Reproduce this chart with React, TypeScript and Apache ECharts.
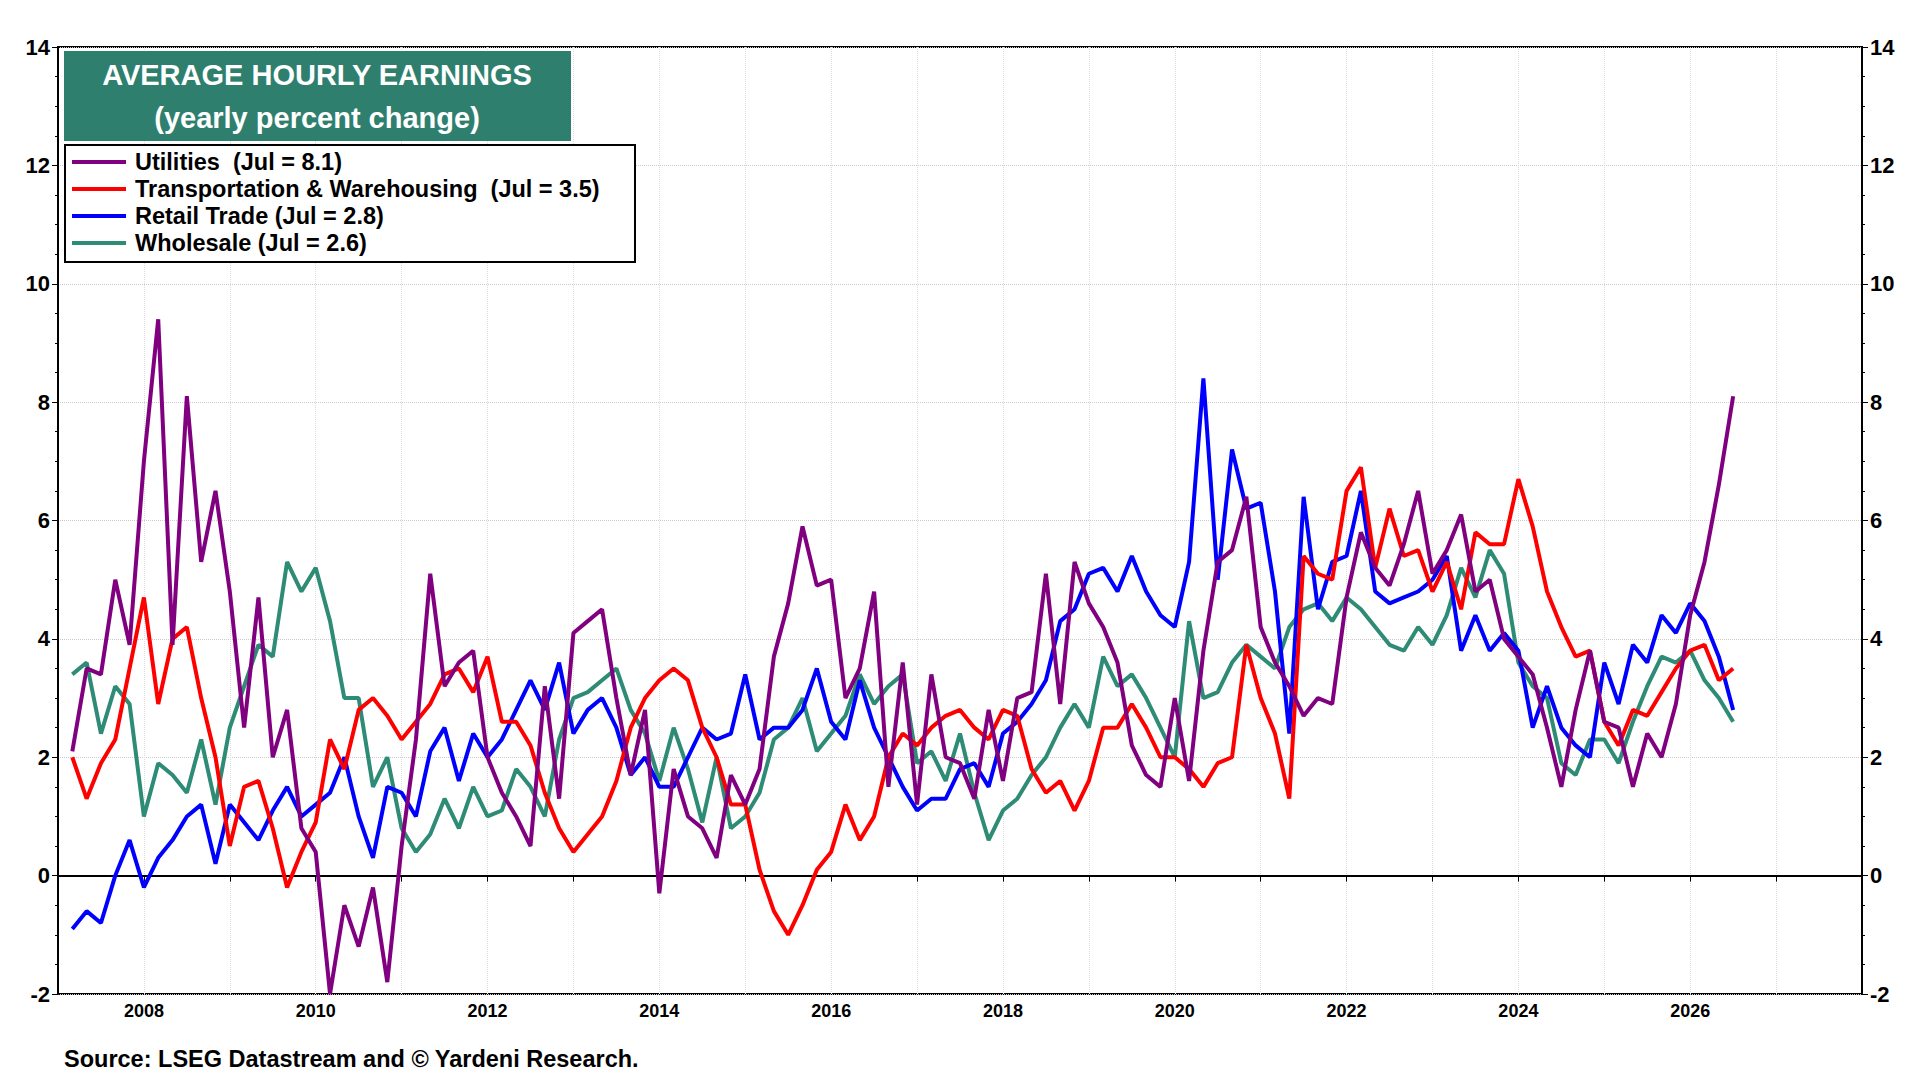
import React, { useEffect, useRef } from 'react';
import * as echarts from 'echarts';

// bimonthly readings, Mar 2007 .. Jul 2026
const startYear = 2007 + 2 / 12;
const step = 1 / 6;

const utilities = [
  2.1, 3.5, 3.4, 5.0, 3.9,
  7.0, 9.4, 3.9, 8.1, 5.3, 6.5,
  4.8, 2.5, 4.7, 2.0, 2.8, 0.8,
  0.4, -2.0, -0.5, -1.2, -0.2, -1.8,
  0.5, 2.3, 5.1, 3.2, 3.6, 3.8,
  2.0, 1.4, 1.0, 0.5, 3.2, 1.3,
  4.1, 4.3, 4.5, 3.0, 1.7, 2.8,
  -0.3, 1.8, 1.0, 0.8, 0.3, 1.7,
  1.2, 1.8, 3.7, 4.6, 5.9, 4.9,
  5.0, 3.0, 3.5, 4.8, 1.5, 3.6,
  1.2, 3.4, 2.0, 1.9, 1.3, 2.8,
  1.6, 3.0, 3.1, 5.1, 2.9, 5.3,
  4.6, 4.2, 3.6, 2.2, 1.7, 1.5,
  3.0, 1.6, 3.8, 5.3, 5.5, 6.4,
  4.2, 3.6, 3.2, 2.7, 3.0, 2.9,
  4.7, 5.8, 5.2, 4.9, 5.6, 6.5,
  5.1, 5.5, 6.1, 4.8, 5.0, 4.0,
  3.7, 3.4, 2.5, 1.5, 2.8, 3.8,
  2.6, 2.5, 1.5, 2.4, 2.0, 2.9,
  4.4, 5.3, 6.6, 8.1,
];

const transport = [
  2.0, 1.3, 1.9, 2.3, 3.5,
  4.7, 2.9, 4.0, 4.2, 3.0, 2.0,
  0.5, 1.5, 1.6, 0.8, -0.2, 0.4,
  0.9, 2.3, 1.8, 2.8, 3.0, 2.7,
  2.3, 2.6, 2.9, 3.4, 3.5, 3.1,
  3.7, 2.6, 2.6, 2.2, 1.4, 0.8,
  0.4, 0.7, 1.0, 1.6, 2.5, 3.0,
  3.3, 3.5, 3.3, 2.5, 2.0, 1.2,
  1.2, 0.1, -0.6, -1.0, -0.5, 0.1,
  0.4, 1.2, 0.6, 1.0, 2.0, 2.4,
  2.2, 2.5, 2.7, 2.8, 2.5, 2.3,
  2.8, 2.7, 1.8, 1.4, 1.6, 1.1,
  1.6, 2.5, 2.5, 2.9, 2.5, 2.0,
  2.0, 1.8, 1.5, 1.9, 2.0, 3.9,
  3.0, 2.4, 1.3, 5.4, 5.1, 5.0,
  6.5, 6.9, 5.2, 6.2, 5.4, 5.5,
  4.8, 5.3, 4.5, 5.8, 5.6, 5.6,
  6.7, 5.9, 4.8, 4.2, 3.7, 3.8,
  2.6, 2.2, 2.8, 2.7, 3.1, 3.5,
  3.8, 3.9, 3.3, 3.5,
];

const retail = [
  -0.9, -0.6, -0.8, 0.0, 0.6,
  -0.2, 0.3, 0.6, 1.0, 1.2, 0.2,
  1.2, 0.9, 0.6, 1.1, 1.5, 1.0,
  1.2, 1.4, 2.0, 1.0, 0.3, 1.5,
  1.4, 1.0, 2.1, 2.5, 1.6, 2.4,
  2.0, 2.3, 2.8, 3.3, 2.8, 3.6,
  2.4, 2.8, 3.0, 2.5, 1.7, 2.0,
  1.5, 1.5, 2.0, 2.5, 2.3, 2.4,
  3.4, 2.3, 2.5, 2.5, 2.8, 3.5,
  2.6, 2.3, 3.3, 2.5, 2.0, 1.5,
  1.1, 1.3, 1.3, 1.8, 1.9, 1.5,
  2.4, 2.6, 2.9, 3.3, 4.3, 4.5,
  5.1, 5.2, 4.8, 5.4, 4.8, 4.4,
  4.2, 5.3, 8.4, 5.0, 7.2, 6.2,
  6.3, 4.8, 2.4, 6.4, 4.5, 5.3,
  5.4, 6.5, 4.8, 4.6, 4.7, 4.8,
  5.0, 5.4, 3.8, 4.4, 3.8, 4.1,
  3.8, 2.5, 3.2, 2.5, 2.2, 2.0,
  3.6, 2.9, 3.9, 3.6, 4.4, 4.1,
  4.6, 4.3, 3.7, 2.8,
];

const wholesale = [
  3.4, 3.6, 2.4, 3.2, 2.9,
  1.0, 1.9, 1.7, 1.4, 2.3, 1.2,
  2.5, 3.2, 3.9, 3.7, 5.3, 4.8,
  5.2, 4.3, 3.0, 3.0, 1.5, 2.0,
  0.8, 0.4, 0.7, 1.3, 0.8, 1.5,
  1.0, 1.1, 1.8, 1.5, 1.0, 2.3,
  3.0, 3.1, 3.3, 3.5, 2.8, 2.4,
  1.6, 2.5, 1.8, 0.9, 2.0, 0.8,
  1.0, 1.4, 2.3, 2.5, 3.0, 2.1,
  2.4, 2.7, 3.4, 2.9, 3.2, 3.4,
  1.9, 2.1, 1.6, 2.4, 1.4, 0.6,
  1.1, 1.3, 1.7, 2.0, 2.5, 2.9,
  2.5, 3.7, 3.2, 3.4, 3.0, 2.5,
  2.0, 4.3, 3.0, 3.1, 3.6, 3.9,
  3.7, 3.5, 4.2, 4.5, 4.6, 4.3,
  4.7, 4.5, 4.2, 3.9, 3.8, 4.2,
  3.9, 4.4, 5.2, 4.7, 5.5, 5.1,
  3.6, 3.2, 3.0, 1.9, 1.7, 2.3,
  2.3, 1.9, 2.6, 3.2, 3.7, 3.6,
  3.8, 3.3, 3.0, 2.6,
];

const legendItems = [
  { name: 'Utilities  (Jul = 8.1)', color: '#800080' },
  { name: 'Transportation & Warehousing  (Jul = 3.5)', color: '#ff0000' },
  { name: 'Retail Trade (Jul = 2.8)', color: '#0000ff' },
  { name: 'Wholesale (Jul = 2.6)', color: '#2e8b75' },
];
const seriesData = [utilities, transport, retail, wholesale];

const font = '"Liberation Sans", Arial, sans-serif';

const App: React.FC = () => {
  const chartRef = useRef<HTMLDivElement | null>(null);

  useEffect(() => {
    const chart = echarts.init(chartRef.current!, null, { renderer: 'svg' });

    const yAxisBase = {
      type: 'value',
      min: -2,
      max: 14,
      interval: 2,
      axisLine: { show: true, lineStyle: { color: '#000', width: 2 } },
      axisTick: { show: true, length: 6, lineStyle: { color: '#000' } },
      minorTick: { show: true, splitNumber: 4, length: 3, lineStyle: { color: '#000' } },
      axisLabel: { color: '#000', fontFamily: font, fontWeight: 'bold', fontSize: 22 },
      splitLine: { show: true, lineStyle: { color: '#ccc', type: 'dotted' } },
    };

    const graphic: any[] = [
      { type: 'rect', left: 64, top: 51, z: 100, shape: { width: 507, height: 90 }, style: { fill: '#2f7f6f' } },
      { type: 'text', z: 101, x: 317, y: 75, style: { text: 'AVERAGE HOURLY EARNINGS', fill: '#fff', font: `bold 29px ${font}`, align: 'center', verticalAlign: 'middle' } },
      { type: 'text', z: 101, x: 317, y: 118, style: { text: '(yearly percent change)', fill: '#fff', font: `bold 29px ${font}`, align: 'center', verticalAlign: 'middle' } },
      { type: 'rect', left: 64, top: 144, z: 100, shape: { width: 570, height: 117 }, style: { fill: '#fff', stroke: '#000', lineWidth: 2 } },
      ...legendItems.flatMap((it, i) => [
        { type: 'line', z: 101, shape: { x1: 72, y1: 162 + i * 27, x2: 126, y2: 162 + i * 27 }, style: { stroke: it.color, lineWidth: 4 } },
        { type: 'text', z: 101, x: 135, y: 162 + i * 27, style: { text: it.name, fill: '#000', font: `bold 23.5px ${font}`, verticalAlign: 'middle' } },
      ]),
      { type: 'text', left: 64, top: 1047, style: { text: 'Source: LSEG Datastream and © Yardeni Research.', fill: '#000', font: `bold 23.5px ${font}` } },
    ];

    const option = {
      animation: false,
      grid: { left: 58, right: 58, top: 47, bottom: 86, show: true, borderColor: '#000', borderWidth: 2 },
      xAxis: {
        type: 'value',
        min: 2007,
        max: 2028,
        interval: 1,
        axisLine: { lineStyle: { color: '#000', width: 2 } },
        axisTick: { show: true, length: 6, lineStyle: { color: '#000' } },
        axisLabel: {
          color: '#000', fontFamily: font, fontWeight: 'bold', fontSize: 18,
          formatter: (v: number) => (v % 2 === 0 && v >= 2008 && v <= 2026 ? String(v) : ''),
        },
        splitLine: { show: true, lineStyle: { color: '#ddd', type: 'dotted' } },
      },
      yAxis: [
        { ...yAxisBase, position: 'left' },
        { ...yAxisBase, position: 'right', splitLine: { show: false } },
      ],
      series: seriesData.map((vals, k) => ({
        name: legendItems[k].name,
        type: 'line',
        showSymbol: false,
        z: 10 - k,
        lineStyle: { color: legendItems[k].color, width: 4 },
        itemStyle: { color: legendItems[k].color },
        data: vals.map((v, i) => [startYear + i * step, v]),
        markLine: k === 0 ? {
          silent: true, symbol: 'none', label: { show: false },
          lineStyle: { color: '#000', type: 'solid', width: 2 },
          data: [{ yAxis: 0 }],
        } : undefined,
      })),
      graphic,
    };

    chart.setOption(option as any);
    return () => {
      chart.dispose();
    };
  }, []);

  return (
    <div
      ref={chartRef}
      style={{ position: 'fixed', left: 0, top: 0, width: '1920px', height: '1080px', background: '#fff' }}
    />
  );
};

export default App;
